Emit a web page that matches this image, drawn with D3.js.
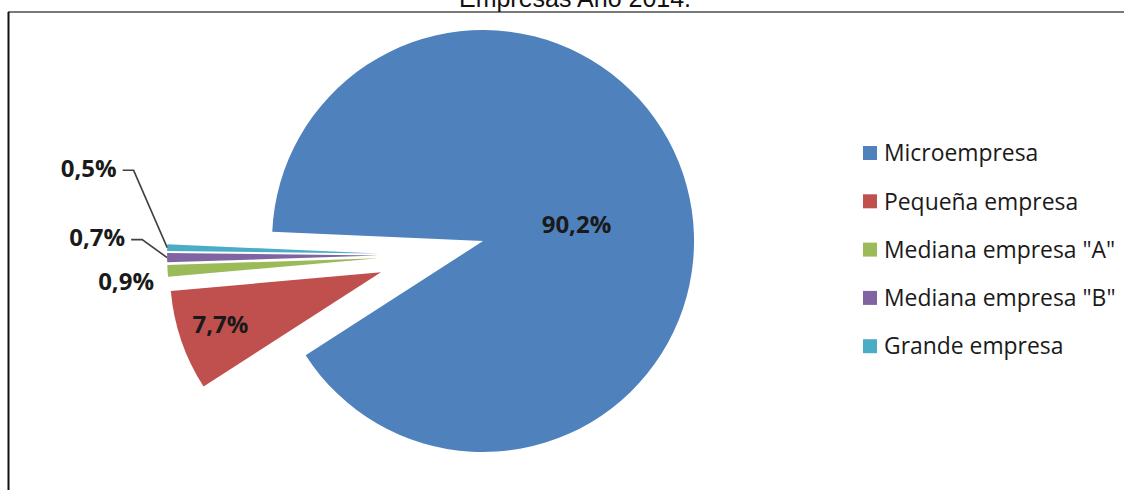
<!DOCTYPE html>
<html>
<head>
<meta charset="utf-8">
<script src="https://cdn.jsdelivr.net/npm/d3@7"></script>
<style>
  html, body { margin: 0; padding: 0; background: #fff; }
  svg { display: block; }
</style>
</head>
<body>
<svg id="chart" width="1124" height="490"></svg>
<script>
// Company size distribution, 2014
const categories = ["Microempresa", "Pequeña empresa", "Mediana empresa \"A\"", "Mediana empresa \"B\"", "Grande empresa"];
const shares = [90.2, 7.7, 0.9, 0.7, 0.5];
const colors = ["#4F81BD", "#C0504D", "#9BBB59", "#8064A2", "#4BACC6"];
const title = "Empresas Año 2014.";

const W = 1124, H = 490;
const svg = d3.select("#chart");

const rad = d => d * Math.PI / 180;
const esLocale = d3.formatLocale({ decimal: ",", thousands: ".", grouping: [3], currency: ["", "€"] });
const fmt = v => esLocale.format(".1f")(v) + "%";

// frame
svg.append("line").attr("x1", 8).attr("x2", W).attr("y1", 12).attr("y2", 12)
  .attr("stroke", "#7a7a7a").attr("stroke-width", 2);
svg.append("line").attr("x1", 8.5).attr("x2", 8.5).attr("y1", 12).attr("y2", H)
  .attr("stroke", "#111").attr("stroke-width", 2);

// title (sits partly above the frame)
svg.append("text").attr("x", 575).attr("y", 7)
  .attr("text-anchor", "middle")
  .attr("font-family", "Liberation Sans, Arial, sans-serif")
  .attr("font-size", 25).attr("fill", "#111")
  .text(title);

// pie geometry
const cx = 431.5, cy = 255, R = 211, explode = 53.4;
const start = rad(-87.5);
const pie = d3.pie().sort(null).startAngle(start).endAngle(start + 2 * Math.PI);
const arcs = pie(shares);
const arc = d3.arc().innerRadius(0).outerRadius(R);

const mid = a => (a.startAngle + a.endAngle) / 2;
const polar = (ang, r) => [Math.sin(ang) * r, -Math.cos(ang) * r];

const g = svg.append("g").attr("transform", `translate(${cx},${cy})`);

const slices = g.selectAll("g.slice").data(arcs).join("g")
  .attr("class", "slice")
  .attr("transform", d => {
    const [dx, dy] = polar(mid(d), explode);
    return `translate(${dx},${dy})`;
  });

slices.append("path")
  .attr("d", arc)
  .attr("fill", (d, i) => colors[i]);

// label placement per slice: angular shift (deg) and radius as share of R
const labelPlace = [
  { shift: 4.9, r: 0.45, leader: false },
  { shift: 0.9, r: 0.80, leader: false },
  { shift: -1.9, r: 1.20, leader: false },
  { shift: 4.2, r: 1.334, leader: true },
  { shift: 14.8, r: 1.43, leader: true }
];

slices.each(function (d, i) {
  const sel = d3.select(this);
  const p = labelPlace[i];
  const [lx, ly] = polar(mid(d) + rad(p.shift), R * p.r);
  const t = sel.append("text")
    .attr("x", lx).attr("y", ly).attr("dy", "0.36em")
    .attr("text-anchor", "middle")
    .attr("font-family", "Open Sans, sans-serif")
    .attr("font-weight", "bold")
    .attr("font-size", 24)
    .attr("fill", "#1a1a1a")
    .text(fmt(shares[i]));
  if (p.leader) {
    const w = t.node().getComputedTextLength();
    const [ex, ey] = polar(mid(d), R);
    const x0 = lx + w / 2 + 6, yl = ly + 2;
    sel.insert("polyline", "text")
      .attr("points", `${x0},${yl} ${x0 + 11},${yl} ${ex},${ey}`)
      .attr("fill", "none")
      .attr("stroke", "#404040")
      .attr("stroke-width", 1.6);
  }
});

// legend
const legend = svg.append("g").attr("transform", "translate(863,153)");
const rows = legend.selectAll("g").data(categories).join("g")
  .attr("transform", (d, i) => `translate(0,${i * 48.3})`);
rows.append("rect").attr("x", 0).attr("y", -7).attr("width", 14).attr("height", 14)
  .attr("fill", (d, i) => colors[i]);
rows.append("text").attr("x", 21).attr("y", 0).attr("dy", "0.36em")
  .attr("font-family", "Open Sans, sans-serif")
  .attr("font-size", 22.9).attr("fill", "#1a1a1a")
  .text(d => d);
</script>
</body>
</html>
